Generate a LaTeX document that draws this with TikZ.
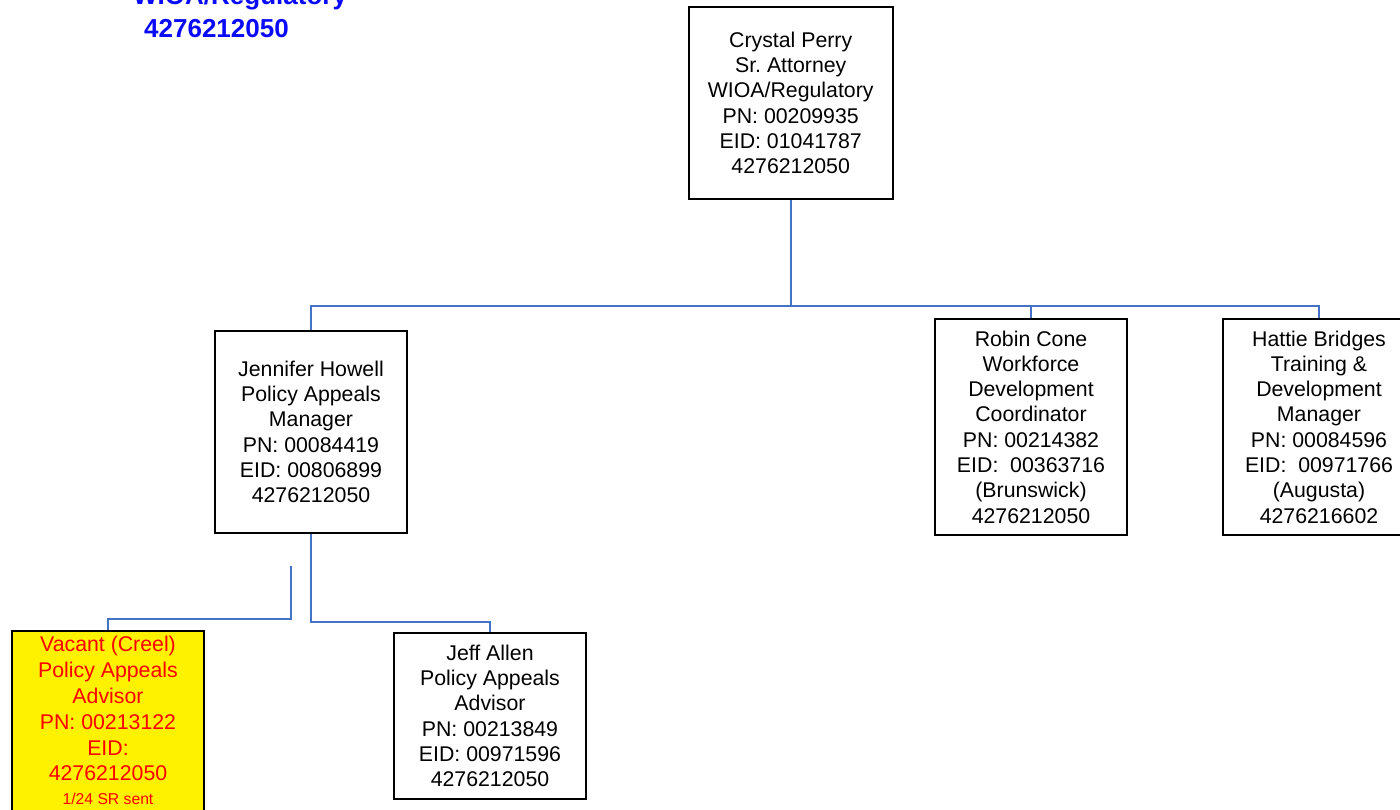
\documentclass[tikz,border=0pt]{standalone}
\usepackage{fontspec}
\setmainfont{Liberation Sans}
\frenchspacing
\definecolor{connc}{HTML}{4472C4}
\definecolor{hdrblue}{RGB}{10,10,250}
\begin{document}
\begin{tikzpicture}[x=1pt,y=-1pt,
  box/.style={draw=black, line width=2pt, inner sep=0pt, align=center,
    font=\fontsize{21.3}{25.3}\selectfont, minimum width=192pt},
  conn/.style={draw=connc, line width=2pt},
  hdr/.style={anchor=base west, inner sep=0pt, text=hdrblue,
    font=\bfseries\fontsize{26}{30}\selectfont}
  ]
\clip (0,0) rectangle (1400,809);
\useasboundingbox (0,0) rectangle (1400,809);

% header text (partly cut off)
\node[hdr] (hdrA) at (133,4.5) {WIOA/Regulatory};
\node[hdr] (hdrB) at (144,37.3) {4276212050};

% boxes
\node[box, minimum width=204pt, minimum height=192pt] (crystal) at (790.7,103)
  {Crystal Perry\\Sr. Attorney\\WIOA/Regulatory\\PN: 00209935\\EID: 01041787\\4276212050};
\node[box, minimum height=202pt] (jen) at (311,432)
  {Jennifer Howell\\Policy Appeals\\Manager\\PN: 00084419\\EID: 00806899\\4276212050};
\node[box, minimum height=216pt] (robin) at (1031,427)
  {Robin Cone\\Workforce\\Development\\Coordinator\\PN: 00214382\\EID:\ \ 00363716\\(Brunswick)\\4276212050};
\node[box, minimum height=216pt] (hattie) at (1319,427)
  {Hattie Bridges\\Training \&\\Development\\Manager\\PN: 00084596\\EID:\ \ 00971766\\(Augusta)\\4276216602};
\node[box, minimum height=166pt] (jeff) at (490,716)
  {Jeff Allen\\Policy Appeals\\Advisor\\PN: 00213849\\EID: 00971596\\4276212050};
\node[box, fill=yellow, minimum height=210pt] (vac) at (108,736) {};
\node[anchor=north, inner sep=0pt, align=center, text=red,
  font=\fontsize{21.3}{25.8}\selectfont] (vactext) at (108,636.3)
  {Vacant (Creel)\\Policy Appeals\\Advisor\\PN: 00213122\\EID:\\4276212050\\[-2.5pt]
   {\fontsize{15.7}{18}\selectfont 1/24 SR sent}};

% connectors
\coordinate (bus) at (790.7,306);
\coordinate (vfree) at (291,566);
\draw[conn] (crystal.south) -- (bus);
\draw[conn] (jen.north) |- (bus) -| (robin.north);
\draw[conn] (bus) -| (hattie.north);
\draw[conn] (jen.south) -- ++(0,88) -| (jeff.north);
\draw[conn] (vfree) -- ++(0,53) -| (vac.north);
\end{tikzpicture}
\end{document}
